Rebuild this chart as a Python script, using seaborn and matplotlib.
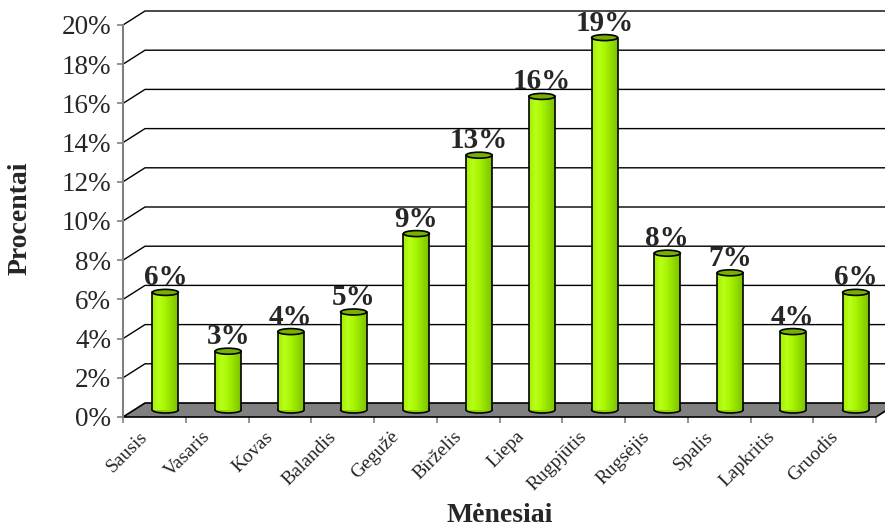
import matplotlib
matplotlib.use("Agg")
import matplotlib.pyplot as plt
import matplotlib.transforms as mtransforms
import numpy as np
import pandas as pd
import seaborn as sns
from matplotlib.colors import LinearSegmentedColormap
from matplotlib.patches import Ellipse, Polygon

# data
months = ["Sausis", "Vasaris", "Kovas", "Balandis", "Gegužė", "Birželis",
          "Liepa", "Rugpjūtis", "Rugsėjis", "Spalis", "Lapkritis", "Gruodis"]
percent = [6, 3, 4, 5, 9, 13, 16, 19, 8, 7, 4, 6]
y_ticks = [0, 2, 4, 6, 8, 10, 12, 14, 16, 18, 20]

sns.set_style("white")
plt.rcParams["font.family"] = ["Liberation Serif", "DejaVu Serif"]

W, H = 885, 529
x0_px, y0_px = 123, 417      # front-left corner of the floor
cat_px, pct_px = 62.75, 19.6  # pixels per category / per percent
dx = 22 / cat_px              # depth offset in data units
dy = 14 / pct_px
bar_w = 0.414
ell_h = 6 / pct_px

fig = plt.figure(figsize=(W / 100, H / 100), dpi=100)
ax = fig.add_axes([x0_px / W, (H - y0_px) / H, (W - x0_px) / W, y0_px / H])

df = pd.DataFrame({"month": months, "percent": percent})
sns.barplot(data=df, x="month", y="percent", width=bar_w, color="#9be000",
            linewidth=0, ax=ax, zorder=4)

cmap = LinearSegmentedColormap.from_list(
    "cyl", ["#a4ee00", "#b8ff1a", "#a8f500", "#92dc00", "#7dc200"])
grad = np.linspace(0, 1, 64).reshape(1, -1)

for patch, v in zip(ax.patches, percent):
    px = patch.get_x() + dx / 2
    patch.set_x(px)
    patch.set_y(dy / 2)
    cx = px + bar_w / 2
    top = v + dy / 2
    ax.imshow(grad, cmap=cmap, extent=[px, px + bar_w, dy / 2, top],
              aspect="auto", origin="lower", zorder=4.2)
    ax.add_patch(Ellipse((cx, dy / 2), bar_w, ell_h, facecolor="#8fd400",
                         edgecolor="black", lw=1.2, zorder=3.5))
    ax.plot([px, px], [dy / 2, top], color="black", lw=1.2, zorder=5)
    ax.plot([px + bar_w, px + bar_w], [dy / 2, top], color="black", lw=1.2,
            zorder=5)
    ax.add_patch(Ellipse((cx, top), bar_w, ell_h, facecolor="#76b000",
                         edgecolor="black", lw=1.2, zorder=6))
    ax.text(cx, top + ell_h / 2, f"{v}%",
            transform=mtransforms.offset_copy(ax.transData, fig, x=0, y=4,
                                              units="dots"),
            ha="center", va="baseline", fontsize=21, fontweight="bold",
            zorder=7)

n = len(months)
# floor
ax.add_patch(Polygon([(-0.5, 0), (n - 0.5, 0), (n - 0.5 + dx, dy),
                      (-0.5 + dx, dy)], closed=True, facecolor="#808080",
                     edgecolor="black", lw=1.2, zorder=2, clip_on=False))
# back wall gridlines
for v in y_ticks[1:]:
    ax.plot([-0.5, -0.5 + dx, n + 2], [v, v + dy, v + dy], color="black",
            lw=1, zorder=1)

ax.set_xlim(-0.5, -0.5 + (W - x0_px) / cat_px)
ax.set_ylim(0, y0_px / pct_px)

for s in ["top", "right", "bottom"]:
    ax.spines[s].set_visible(False)
ax.spines["left"].set_color("#808080")
ax.spines["left"].set_linewidth(1.5)
ax.spines["left"].set_bounds(0, 20)
ax.spines["left"].set_zorder(3)

ax.set_yticks(y_ticks, [f"{v}%" for v in y_ticks])
ax.set_xticks(np.arange(-0.5, n, 1), [""] * (n + 1))
ax.tick_params(axis="both", length=4.5, width=1.2, color="#808080",
               direction="out", left=True, bottom=True)
ax.tick_params(axis="y", labelsize=19.5, pad=4)
ax.set_xlabel("")
ax.set_ylabel("")

lab_tr = mtransforms.offset_copy(ax.transData, fig, x=-15, y=-11,
                                 units="dots")
for i, m in enumerate(months):
    ax.text(i, 0, m, transform=lab_tr, rotation=45, ha="right", va="top",
            rotation_mode="anchor", fontsize=14, clip_on=False)

fig.text(20 / W, 1 - 218 / H, "Procentai", rotation=90, ha="center",
         va="center", fontsize=20, fontweight="bold")
fig.text(500 / W, 1 - 515 / H, "Mėnesiai", ha="center", va="center",
         fontsize=20, fontweight="bold")

fig.savefig("out.png", dpi=100)
